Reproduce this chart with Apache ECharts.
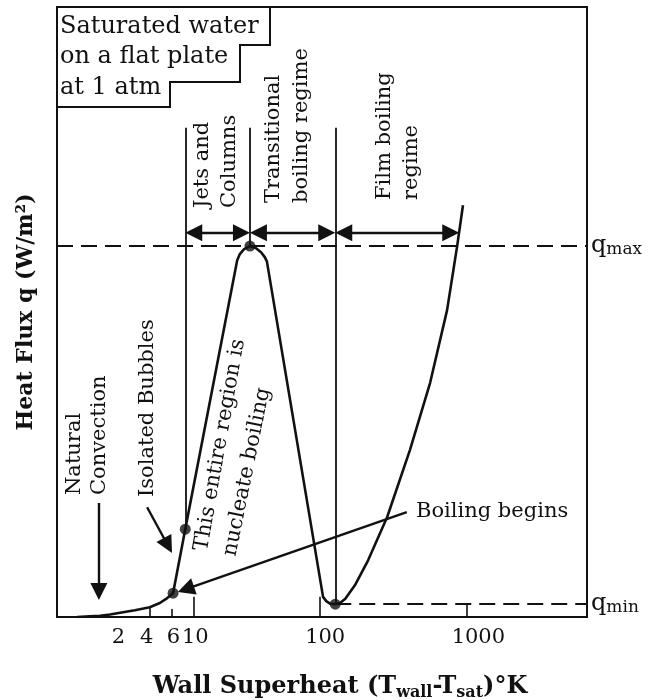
<!DOCTYPE html>
<html>
<head>
<meta charset="utf-8">
<script src="https://cdn.jsdelivr.net/npm/echarts@6/dist/echarts.min.js"></script>
<style>
  html, body { margin: 0; padding: 0; background: #fff; }
  #main { width: 650px; height: 700px; }
</style>
</head>
<body>
<div id="main"></div>
<script>
// x: position along the schematic (roughly logarithmic) superheat axis, 0..100
// y: heat flux in arbitrary units, 0..100
const boilingCurve = [
  // natural convection
  [3.8, 0], [6.2, 0.1], [8.1, 0.2], [10.0, 0.4], [11.9, 0.7], [14.7, 1.1], [17.5, 1.6],
  [19.4, 2.3], [20.8, 3.1], [21.9, 3.9],
  // nucleate boiling up to the peak
  [24.2, 14.4], [34.0, 58.5], [34.5, 59.5], [35.3, 60.3], [36.4, 60.8], [37.5, 60.5],
  [38.5, 59.8], [39.2, 59.0], [39.6, 58.3],
  // transition boiling down to the minimum
  [50.2, 3.3], [50.8, 2.6], [51.5, 2.2], [52.5, 2.1],
  // film boiling
  [53.4, 2.3], [54.4, 3.0], [56.2, 5.2], [58.7, 9.3], [62.3, 16.4], [66.6, 27.4],
  [70.4, 38.4], [73.6, 50.3], [75.5, 60.8], [76.6, 67.5]
];
const keyPoints = [[21.9, 3.9], [24.2, 14.4], [36.4, 60.8], [52.5, 2.1]];
const qMax = 60.8;
const qMin = 2.1;
const qMinStart = 52.5;
const regimeLines = [[24.2, 14.4], [36.4, 60.8], [52.5, 2.1]]; // [x, lower end]
const regimeLineTop = 80.2;
const regimeArrowY = 63.0;
const regimeArrowStops = [24.2, 36.4, 52.5, 75.9];
const tickLabelPos = [11.6, 16.9, 21.95, 26.1, 50.6, 79.5];
const tickLabels = ['2', '4', '6', '10', '100', '1000'];
const dropTicks = [[17.5, 1.6], [21.7, 1.3], [25.8, 3.3], [49.6, 3.3], [77.4, 2.1]];
const pointerArrows = [
  [[66.0, 17.2], [22.8, 4.1]],   // boiling begins
  [[7.9, 18.7], [7.9, 2.8]],     // natural convection
  [[17.0, 18.0], [21.7, 10.5]]   // isolated bubbles
];

const SERIF = '"DejaVu Serif", "Liberation Serif", serif';
const INK = '#111';

const chart = echarts.init(document.getElementById('main'));

chart.setOption({
  animation: false,
  grid: {
    left: 57, right: 63, top: 7, bottom: 83,
    outerBoundsMode: 'none',
    show: true, borderColor: INK, borderWidth: 2
  },
  xAxis: {
    type: 'value', min: 0, max: 100,
    splitLine: { show: false },
    axisTick: { show: false },
    axisLine: { show: true, onZero: false, lineStyle: { color: INK, width: 2 } },
    axisLabel: {
      customValues: tickLabelPos,
      formatter: v => tickLabels[tickLabelPos.indexOf(v)],
      color: INK, fontFamily: SERIF, fontSize: 21, margin: 10
    },
    name: '{m|Wall Superheat (T}{s|wall}{m|-T}{s|sat}{m|)°K}',
    nameLocation: 'middle',
    nameGap: 55,
    nameTextStyle: {
      padding: [0, 0, 0, 36],
      rich: {
        m: { fontFamily: SERIF, fontWeight: 'bold', fontSize: 24, color: INK },
        s: { fontFamily: SERIF, fontWeight: 'bold', fontSize: 16, color: INK, padding: [13, 0, 0, 0] }
      }
    }
  },
  yAxis: {
    type: 'value', min: 0, max: 100,
    splitLine: { show: false },
    axisTick: { show: false },
    axisLabel: { show: false },
    axisLine: { show: true, lineStyle: { color: INK, width: 2 } },
    name: 'Heat Flux q (W/m²)',
    nameLocation: 'middle',
    nameGap: 20,
    nameTextStyle: { fontFamily: SERIF, fontWeight: 'bold', fontSize: 22, color: INK }
  },
  series: [
    {
      type: 'line',
      data: boilingCurve,
      showSymbol: false,
      smooth: false,
      lineStyle: { color: INK, width: 2.6, join: 'round' },
      silent: true,
      z: 4,
      markLine: {
        silent: true,
        symbol: 'none',
        lineStyle: { color: INK, width: 2, type: [16, 8] },
        label: {
          position: 'end', distance: 4,
          rich: {
            q: { fontFamily: SERIF, fontSize: 24, color: INK },
            s: { fontFamily: SERIF, fontSize: 17, color: INK, padding: [6, 0, 0, 0] }
          }
        },
        data: [
          { yAxis: qMax, label: { formatter: '{q|q}{s|max}' } },
          [
            { coord: [qMinStart, qMin], label: { formatter: '{q|q}{s|min}' } },
            { coord: [100, qMin] }
          ]
        ]
      }
    },
    {
      type: 'scatter',
      data: keyPoints,
      symbolSize: 11,
      itemStyle: { color: INK },
      silent: true,
      z: 5
    },
    {
      type: 'lines',
      coordinateSystem: 'cartesian2d',
      silent: true,
      lineStyle: { color: INK, width: 1.8, opacity: 1 },
      data: regimeLines.map(([x, y]) => ({ coords: [[x, regimeLineTop], [x, y]] }))
    },
    {
      type: 'lines',
      coordinateSystem: 'cartesian2d',
      silent: true,
      lineStyle: { color: INK, width: 1.6, opacity: 1 },
      data: dropTicks.map(([x, y]) => ({ coords: [[x, 0], [x, y]] }))
    }
  ]
});

// arrowheads are centred on the line end, so pull each end back by half a head
const HEAD = 17;
function pullBack(from, to, px) {
  const a = chart.convertToPixel({ gridIndex: 0 }, from);
  const b = chart.convertToPixel({ gridIndex: 0 }, to);
  const dx = b[0] - a[0], dy = b[1] - a[1], len = Math.hypot(dx, dy);
  return chart.convertFromPixel({ gridIndex: 0 }, [b[0] - dx / len * px, b[1] - dy / len * px]);
}

const doubleArrows = [];
for (let i = 0; i < regimeArrowStops.length - 1; i++) {
  const a = [regimeArrowStops[i], regimeArrowY];
  const b = [regimeArrowStops[i + 1], regimeArrowY];
  doubleArrows.push({ coords: [pullBack(b, a, HEAD / 2), pullBack(a, b, HEAD / 2)] });
}
const singleArrows = pointerArrows.map(([a, b]) => ({ coords: [a, pullBack(a, b, HEAD / 2)] }));

function vText(text, x, y, size) {
  return {
    type: 'text', x: x, y: y, rotation: Math.PI / 2, silent: true,
    style: { text: text, fill: INK, font: size + 'px ' + SERIF, align: 'left', verticalAlign: 'middle' }
  };
}

chart.setOption({
  series: [
    {}, {}, {}, {},
    {
      type: 'lines',
      coordinateSystem: 'cartesian2d',
      silent: true,
      symbol: ['triangle', 'triangle'],
      symbolSize: HEAD,
      lineStyle: { color: INK, width: 2.4, opacity: 1 },
      data: doubleArrows
    },
    {
      type: 'lines',
      coordinateSystem: 'cartesian2d',
      silent: true,
      symbol: ['none', 'triangle'],
      symbolSize: HEAD,
      lineStyle: { color: INK, width: 2.4, opacity: 1 },
      data: singleArrows
    }
  ],
  graphic: [
    {
      type: 'polyline', silent: true,
      shape: { points: [[270, 7], [270, 45], [240, 45], [240, 82], [170, 82], [170, 107], [57, 107]] },
      style: { stroke: INK, lineWidth: 2, fill: null }
    },
    { type: 'text', x: 60, y: 27, silent: true, style: { text: 'Saturated water', fill: INK, font: '24px ' + SERIF, verticalAlign: 'middle' } },
    { type: 'text', x: 60, y: 57, silent: true, style: { text: 'on a flat plate', fill: INK, font: '24px ' + SERIF, verticalAlign: 'middle' } },
    { type: 'text', x: 60, y: 88, silent: true, style: { text: 'at 1 atm', fill: INK, font: '24px ' + SERIF, verticalAlign: 'middle' } },
    vText('Jets and', 203, 208, 21),
    vText('Columns', 230, 208, 21),
    vText('Transitional', 274, 203, 21),
    vText('boiling regime', 302, 203, 21),
    vText('Film boiling', 385, 200, 21),
    vText('regime', 412, 200, 21),
    vText('Natural', 75, 495, 21),
    vText('Convection', 100, 495, 21),
    vText('Isolated Bubbles', 148, 497, 21),
    {
      type: 'text', x: 220, y: 445, rotation: 80 * Math.PI / 180, silent: true,
      style: { text: 'This entire region is', fill: INK, font: '21px ' + SERIF, align: 'center', verticalAlign: 'middle' }
    },
    {
      type: 'text', x: 247, y: 472, rotation: 78.5 * Math.PI / 180, silent: true,
      style: { text: 'nucleate boiling', fill: INK, font: '21px ' + SERIF, align: 'center', verticalAlign: 'middle' }
    },
    { type: 'text', x: 416, y: 512, silent: true, style: { text: 'Boiling begins', fill: INK, font: '21px ' + SERIF, verticalAlign: 'middle' } }
  ]
});
</script>
</body>
</html>
